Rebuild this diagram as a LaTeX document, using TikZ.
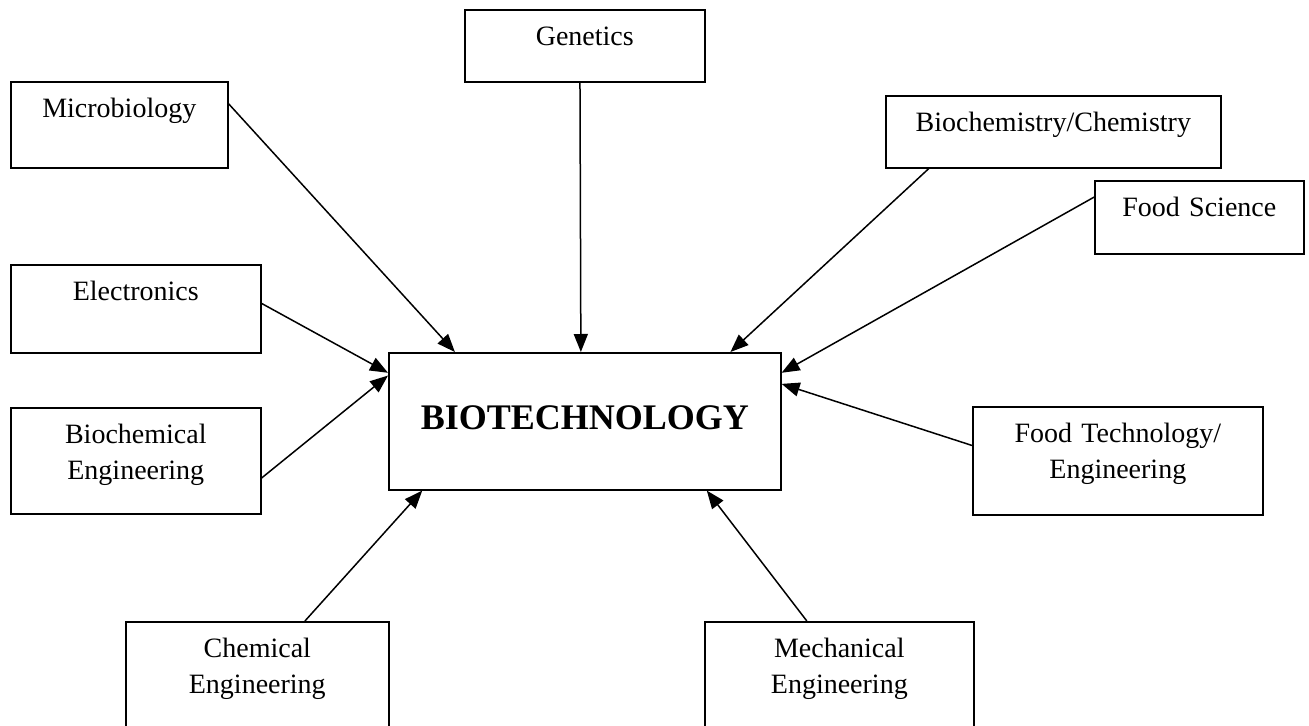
\documentclass[tikz,border=0pt]{standalone}
\usepackage{fontspec}
\setmainfont{Liberation Serif}
\usetikzlibrary{arrows.meta,calc}

\begin{document}
\begin{tikzpicture}[
    x=0.5pt,
    y=-0.5pt,
    field/.style={
        rectangle,
        draw,
        line width=0.8pt,
        inner sep=0pt,
        anchor=north west,
        align=center,
        text height=18pt,
        font=\fontsize{14}{18}\selectfont
    },
    link/.style={
        draw,
        line width=0.75pt,
        -{Triangle[length=9pt,width=7pt]}
    }
]
    \useasboundingbox (0,0) rectangle (1309,726);

    % Components
    \node [field, text width=196pt, text height=38.5pt, text depth=30pt,
           font=\fontsize{18}{22}\selectfont\bfseries] (bio) at (388,352) {BIOTECHNOLOGY};
    \node [field, text width=120pt, text depth=18pt] (gen) at (464,9) {Genetics};
    \node [field, text width=108.5pt, text depth=25pt] (micro) at (10,81) {Microbiology};
    \node [field, text width=167.5pt, text depth=18pt] (chemistry) at (885,95) {Biochemistry/Chemistry};
    \node [field, text width=104.5pt, text depth=18.5pt] (foodsci) at (1094,180) {Food Science};
    \node [field, text width=125pt, text depth=26pt] (elec) at (10,264) {Electronics};
    \node [field, text width=125pt, text depth=35pt] (bioeng) at (10,407) {Biochemical\\Engineering};
    \node [field, text width=145pt, text depth=36pt] (foodtech) at (972,406) {Food Technology/\\Engineering};
    \node [field, text width=131.5pt, text depth=42pt] (chemeng) at (125,621) {Chemical\\Engineering};
    \node [field, text width=134.5pt, text depth=42pt] (mecheng) at (704,621) {Mechanical\\Engineering};

    % Connections into the centre
    \path [link] ($(micro.north east)!0.26!(micro.south east)$) -- ($(bio.north west)!0.17!(bio.north east)$);
    \path [link] ($(gen.south west)!0.48!(gen.south east)$) -- ($(bio.north west)!0.49!(bio.north east)$);
    \path [link] ($(chemistry.south west)!0.13!(chemistry.south east)$) -- ($(bio.north west)!0.87!(bio.north east)$);
    \path [link] ($(foodsci.north west)!0.23!(foodsci.south west)$) -- ($(bio.north east)!0.15!(bio.south east)$);
    \path [link] ($(elec.north east)!0.44!(elec.south east)$) -- ($(bio.north west)!0.15!(bio.south west)$);
    \path [link] ($(bioeng.north east)!0.66!(bioeng.south east)$) -- ($(bio.north west)!0.17!(bio.south west)$);
    \path [link] ($(foodtech.north west)!0.36!(foodtech.south west)$) -- ($(bio.north east)!0.23!(bio.south east)$);
    \path [link] ($(chemeng.north west)!0.68!(chemeng.north east)$) -- ($(bio.south west)!0.087!(bio.south east)$);
    \path [link] ($(mecheng.north west)!0.38!(mecheng.north east)$) -- ($(bio.south west)!0.81!(bio.south east)$);
\end{tikzpicture}
\end{document}
